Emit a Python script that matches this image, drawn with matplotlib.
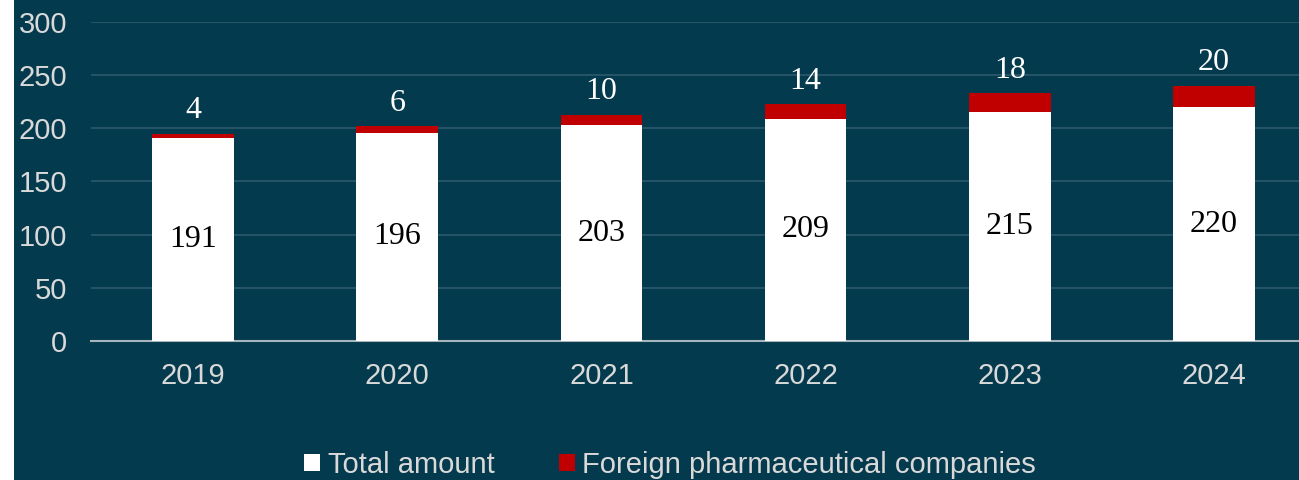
import matplotlib
matplotlib.use('Agg')
import matplotlib.pyplot as plt
import numpy as np

# Дані
years = ['2019', '2020', '2021', '2022', '2023', '2024']
total = [191, 196, 203, 209, 215, 220]
foreign = [4, 6, 10, 14, 18, 20]

bg = '#043a4d'
grid_c = '#2b5a6b'
text_c = '#d9d9d9'
red = '#c00000'

fig = plt.figure(figsize=(12.99, 4.8), dpi=100)
fig.patch.set_facecolor('white')
# темний фон (зліва вузька біла смуга)
fig.add_artist(plt.Rectangle((14 / 1299, 0), 1, 1, transform=fig.transFigure,
                             facecolor=bg, edgecolor='none', zorder=0))

ax = fig.add_axes([91 / 1299, 139 / 480, 1225 / 1299, 319 / 480])
ax.set_facecolor(bg)

x = np.arange(len(years))
w = 0.4
ax.bar(x, total, w, color='white', label='Total amount', zorder=3)
ax.bar(x, foreign, w, bottom=total, color=red,
       label='Foreign pharmaceutical companies', zorder=3)

for xi, t, f in zip(x, total, foreign):
    ax.text(xi, t / 2, str(t), ha='center', va='center', fontsize=23,
            family='Liberation Serif', color='black', zorder=4)
    ax.annotate(str(f), (xi, t + f), xytext=(0, 6), textcoords='offset points',
                ha='center', va='bottom', fontsize=23,
                family='Liberation Serif', color='white', zorder=4)

ax.set_xlim(-0.5, len(years) - 0.5)
ax.set_ylim(0, 300)
ax.set_yticks(range(0, 301, 50))
ax.set_xticks(x)
ax.set_xticklabels(years)
ax.yaxis.grid(True, color=grid_c, linewidth=1.2, zorder=0)
ax.tick_params(length=0, labelsize=21, labelcolor=text_c)
ax.tick_params(axis='y', pad=17)
ax.tick_params(axis='x', pad=15)
for lab in ax.get_xticklabels() + ax.get_yticklabels():
    lab.set_family('Liberation Sans')
for s in ['top', 'right', 'left']:
    ax.spines[s].set_visible(False)
ax.spines['bottom'].set_color('#a6b4bb')
ax.spines['bottom'].set_linewidth(1.5)

fig.legend(loc='center', bbox_to_anchor=(670 / 1299, 15 / 480), ncol=2,
           frameon=False, labelcolor=text_c,
           prop={'family': 'Liberation Sans', 'size': 21},
           handlelength=0.55, handleheight=0.55, handletextpad=0.25,
           columnspacing=2.2)

fig.savefig('out.png', dpi=100, facecolor=fig.get_facecolor())
